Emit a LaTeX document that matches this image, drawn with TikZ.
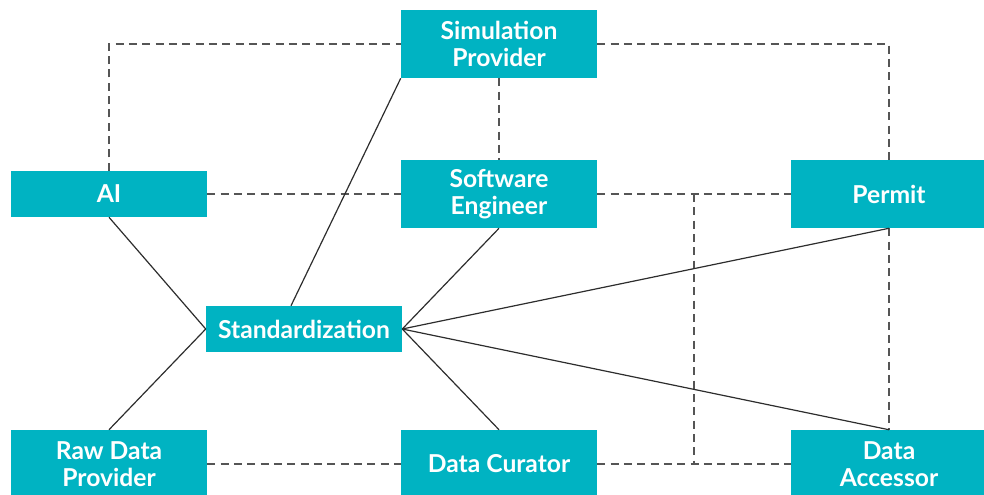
\documentclass[tikz,border=0pt]{standalone}
\usepackage{fontspec}
\setmainfont{Lato}
\usepackage{color}
\definecolor{myteal}{RGB}{0,179,194}
\definecolor{mydash}{RGB}{85,85,85}
\definecolor{myline}{RGB}{45,45,45}
\usepackage{tikz}
\usetikzlibrary{calc,positioning}
\tikzstyle{role}=[fill=myteal,text=white,font=\bfseries\fontsize{18.5}{20}\selectfont,align=center,minimum width=147pt,minimum height=51pt,inner sep=0pt]
\tikzstyle{flatrole}=[role,minimum height=34.5pt]
\tikzstyle{link}=[draw=myline,line width=0.9pt]
\tikzstyle{dashlink}=[draw=mydash,line width=0.9pt,dash pattern=on 6pt off 4pt]

\begin{document}
\begin{tikzpicture}[x=0.75pt,y=-0.75pt]
\useasboundingbox (0,0) rectangle (984,494);
% boxes
\node [role] (sim) at (499,44) {Simulation\\Provider};
\node [flatrole] (ai) at (109,194) {AI};
\node [role] (se) at (499,194) {Software\\Engineer};
\node [role] (permit) at (889,194) {Permit};
\node [flatrole] (std) at (304,329) {Standardization};
\node [role] (rdp) at (109,464) {Raw Data\\Provider};
\node [role] (dc) at (499,464) {Data Curator};
\node [role] (da) at (889,464) {Data\\Accessor};
% dashed links
\coordinate (jtop) at (694,194);
\coordinate (jbot) at (694,464);
\draw [dashlink] (ai.north) |- (sim.west);
\draw [dashlink] (sim.east) -| (permit.north);
\draw [dashlink] (sim.south) -- (se.north);
\draw [dashlink] (ai.east) -- (se.west);
\draw [dashlink] (se.east) -- (permit.west);
\draw [dashlink] (jtop) -- (jbot);
\draw [dashlink] (rdp.east) -- (dc.west);
\draw [dashlink] (dc.east) -- (da.west);
\draw [dashlink] (permit.south) -- (da.north);
% solid links
\draw [link] (sim.south west) -- ($(std.north)+(-13,0)$);
\draw [link] (ai.south) -- (std.west);
\draw [link] (rdp.north) -- (std.west);
\draw [link] (std.east) -- (se.south);
\draw [link] (std.east) -- (permit.south);
\draw [link] (std.east) -- (da.north);
\draw [link] (std.east) -- (dc.north);
\end{tikzpicture}
\end{document}
